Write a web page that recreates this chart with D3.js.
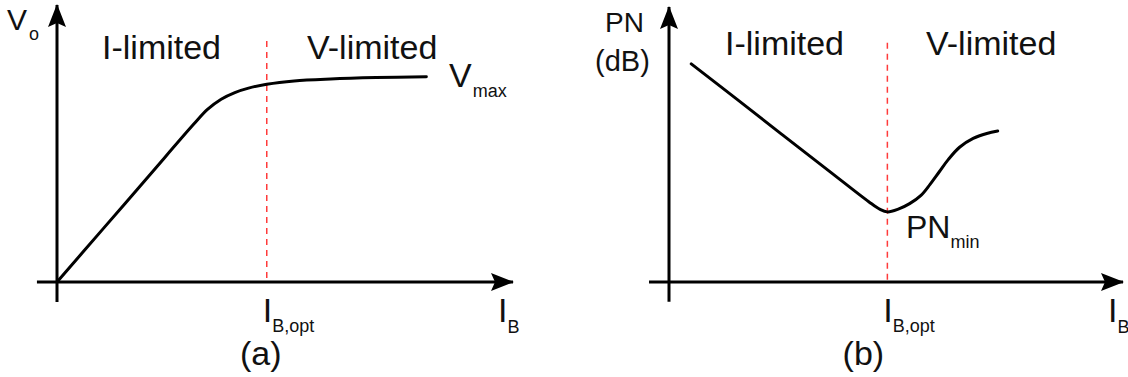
<!DOCTYPE html>
<html>
<head>
<meta charset="utf-8">
<script src="https://cdn.jsdelivr.net/npm/d3@7"></script>
<style>
  html, body { margin: 0; padding: 0; background: #fff; }
  svg { display: block; }
  text { font-family: "Liberation Sans", Arial, sans-serif; fill: #111; }
</style>
</head>
<body>
<svg id="chart" width="1128" height="377"></svg>
<script>
// Output voltage vs bias current (a): linear rise, then saturating towards Vmax
const voIb = [0, 10, 20, 30, 33, 36, 39, 42, 46, 52, 60, 70, 81];
const voVal = [0, 19, 38, 57, 62.3, 66, 68.4, 70, 71.4, 72.6, 73.3, 73.8, 74.1];

// Phase noise vs bias current (b): falling, minimum at IB,opt, then rising
const pnIb = [4.9, 15, 25, 35, 44, 46.5, 48.1, 50.5, 53, 55.5, 57.5, 59.5, 61.5, 64, 67, 70, 72.4];
const pnVal = [79.3, 66.4, 53.5, 40.7, 29.2, 26.4, 25.5, 26.5, 28.5, 31.5, 35.5, 40, 44.5, 49, 52.2, 54, 54.9];

// Optimum bias current, one per panel
const ibOpt = [46, 48.1];
const dashTop = 87;

const regionLabels = ["I-limited", "V-limited"];
const panelTags = ["(a)", "(b)"];

const svg = d3.select("#chart");

// Arrowhead marker shared by all axes
const defs = svg.append("defs");
defs.append("marker")
  .attr("id", "arrow")
  .attr("viewBox", "0 0 24 20")
  .attr("refX", 22).attr("refY", 10)
  .attr("markerUnits", "userSpaceOnUse")
  .attr("markerWidth", 24).attr("markerHeight", 20)
  .attr("orient", "auto")
  .append("path")
  .attr("d", "M0,1 L23,10 L0,19 L4,10 Z")
  .attr("fill", "#000");

const panels = [
  { x0: 57, x1: 513, y0: 282, y1: 5, ib: voIb, val: voVal, opt: ibOpt[0] },
  { x0: 669, x1: 1123, y0: 282, y1: 7, ib: pnIb, val: pnVal, opt: ibOpt[1] }
];

panels.forEach((p, i) => {
  const x = d3.scaleLinear().domain([0, 100]).range([p.x0, p.x1]);
  const y = d3.scaleLinear().domain([0, 100]).range([p.y0, p.y1]);
  const g = svg.append("g");

  // axes
  g.append("line")
    .attr("x1", x(-4.4)).attr("x2", x(100))
    .attr("y1", y(0)).attr("y2", y(0))
    .attr("stroke", "#000").attr("stroke-width", 3)
    .attr("marker-end", "url(#arrow)");
  g.append("line")
    .attr("x1", x(0)).attr("x2", x(0))
    .attr("y1", y(-7.2)).attr("y2", y(100))
    .attr("stroke", "#000").attr("stroke-width", 3)
    .attr("marker-end", "url(#arrow)");

  // boundary between the current- and voltage-limited regimes
  g.append("line")
    .attr("x1", x(p.opt)).attr("x2", x(p.opt))
    .attr("y1", y(dashTop)).attr("y2", y(0))
    .attr("stroke", "#ff3b3b").attr("stroke-width", 1.5)
    .attr("stroke-dasharray", "6,5");

  // curve
  const pts = p.ib.map((v, k) => [v, p.val[k]]);
  g.append("path")
    .datum(pts)
    .attr("fill", "none")
    .attr("stroke", "#000")
    .attr("stroke-width", 3)
    .attr("stroke-linejoin", "round")
    .attr("stroke-linecap", "round")
    .attr("d", d3.line().x(d => x(d[0])).y(d => y(d[1])).curve(d3.curveCatmullRom.alpha(0.5)));

  // IB,opt tick label
  const t = g.append("text").attr("x", x(p.opt) - 4).attr("y", 322).attr("font-size", 34);
  t.append("tspan").text("I");
  t.append("tspan").attr("font-size", 18).attr("dy", 10).text("B,opt");

  // IB axis label
  const tb = g.append("text").attr("x", x(100) - 15).attr("y", 322).attr("font-size", 34);
  tb.append("tspan").text("I");
  tb.append("tspan").attr("font-size", 18).attr("dy", 11).text("B");

  // panel tag
  g.append("text")
    .attr("x", i === 0 ? x(p.opt) - 6 : x(p.opt) - 24)
    .attr("y", 365)
    .attr("font-size", 34)
    .attr("text-anchor", "middle")
    .text(panelTags[i]);
});

// region labels
const baseA = 59, baseB = 55;
svg.append("text").attr("x", 102).attr("y", baseA).attr("font-size", 34).text(regionLabels[0]);
svg.append("text").attr("x", 307).attr("y", baseA).attr("font-size", 34).text(regionLabels[1]);
svg.append("text").attr("x", 725).attr("y", baseB).attr("font-size", 34).text(regionLabels[0]);
svg.append("text").attr("x", 926).attr("y", baseB).attr("font-size", 34).text(regionLabels[1]);

// y-axis titles
const vo = svg.append("text").attr("x", 7).attr("y", 30).attr("font-size", 30);
vo.append("tspan").text("V");
vo.append("tspan").attr("font-size", 18).attr("dy", 10).attr("dx", 2).text("o");

svg.append("text").attr("x", 605).attr("y", 32).attr("font-size", 28).text("PN");
svg.append("text").attr("x", 595).attr("y", 71).attr("font-size", 29).text("(dB)");

// curve end annotations
const vm = svg.append("text").attr("x", 449).attr("y", 87).attr("font-size", 34);
vm.append("tspan").text("V");
vm.append("tspan").attr("font-size", 18).attr("dy", 10).attr("dx", 1).text("max");

const pm = svg.append("text").attr("x", 906).attr("y", 238).attr("font-size", 32);
pm.append("tspan").text("PN");
pm.append("tspan").attr("font-size", 18).attr("dy", 10).text("min");
</script>
</body>
</html>
